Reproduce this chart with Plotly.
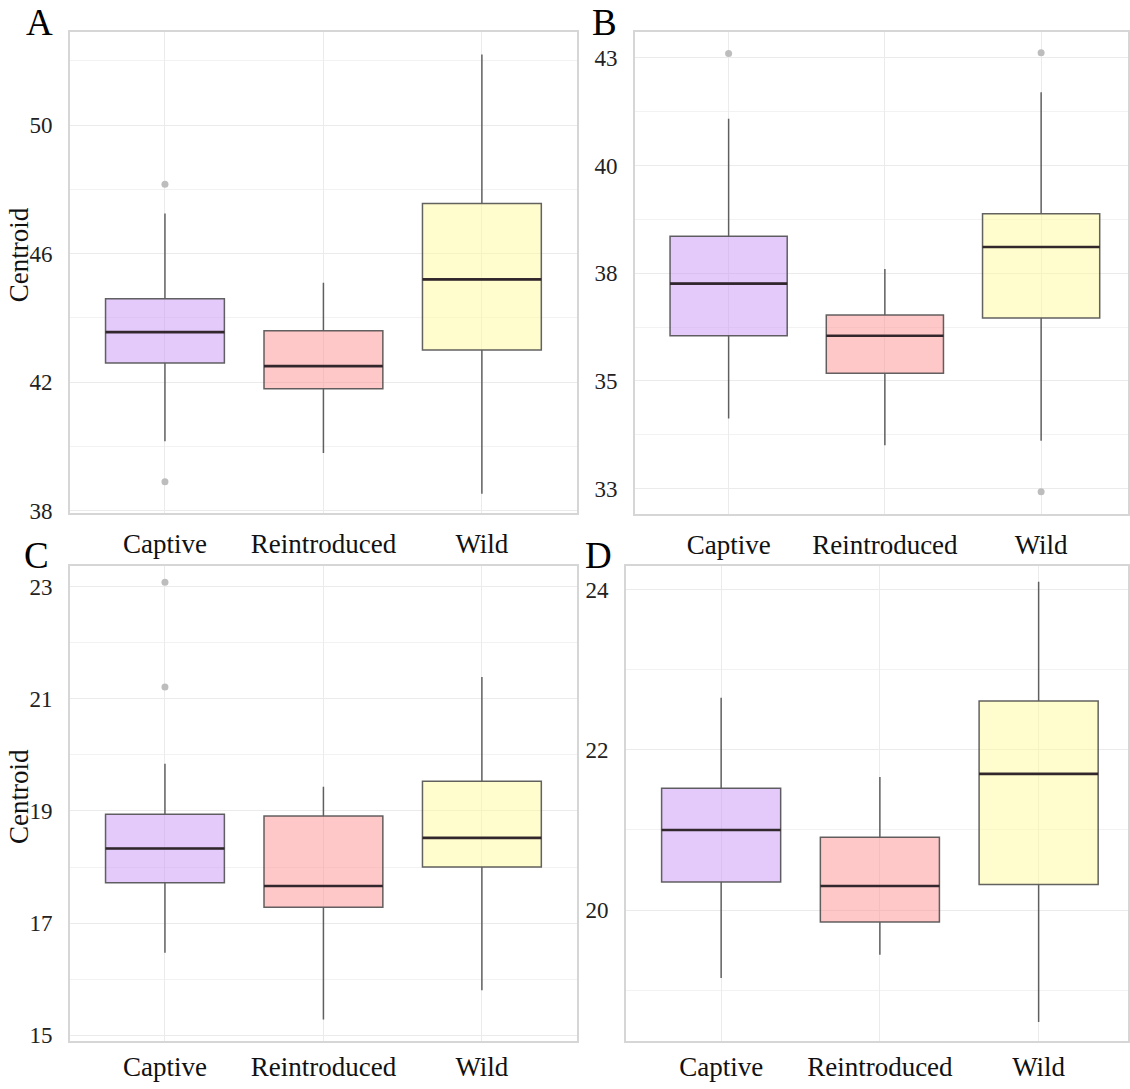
import plotly.graph_objects as go

W, H = 1130, 1089
KY = 1.0115  # vertical correction so rendered positions match the reference

categories = ["Captive", "Reintroduced", "Wild"]

# Panel A
A_lower = [40.16, 39.8, 38.53]
A_q1 = [42.6, 41.8, 43.0]
A_median = [43.56, 42.5, 45.2]
A_q3 = [44.6, 43.6, 47.56]
A_upper = [47.25, 45.1, 52.2]
A_out_x = ["Captive", "Captive"]
A_out_y = [48.16, 38.9]
A_tickvals = [38, 42, 46, 50]
A_ticktext = ["38", "42", "46", "50"]

# Panel B
B_lower = [34.13, 33.51, 33.61]
B_q1 = [36.05, 35.18, 36.46]
B_median = [37.26, 36.05, 38.11]
B_q3 = [38.36, 36.53, 38.88]
B_upper = [41.09, 37.6, 41.7]
B_out_x = ["Captive", "Wild", "Wild"]
B_out_y = [42.6, 42.62, 32.43]
B_tickvals = [32.5, 35, 37.5, 40, 42.5]
B_ticktext = ["33", "35", "38", "40", "43"]

# Panel C
C_lower = [16.47, 15.28, 15.80]
C_q1 = [17.72, 17.28, 18.0]
C_median = [18.33, 17.66, 18.52]
C_q3 = [18.94, 18.91, 19.53]
C_upper = [19.84, 19.43, 21.39]
C_out_x = ["Captive", "Captive"]
C_out_y = [23.08, 21.21]
C_tickvals = [15, 17, 19, 21, 23]
C_ticktext = ["15", "17", "19", "21", "23"]

# Panel D
D_lower = [19.15, 19.44, 18.6]
D_q1 = [20.35, 19.85, 20.32]
D_median = [21.0, 20.30, 21.70]
D_q3 = [21.52, 20.91, 22.61]
D_upper = [22.65, 21.66, 24.1]
D_out_x = []
D_out_y = []
D_tickvals = [20, 22, 24]
D_ticktext = ["20", "22", "24"]

fills = ["rgba(200,150,245,0.5)", "rgba(255,145,145,0.5)", "rgba(255,250,155,0.5)"]

panels = [
    dict(lo=A_lower, q1=A_q1, me=A_median, q3=A_q3, up=A_upper, ox=A_out_x, oy=A_out_y,
         tv=A_tickvals, tt=A_ticktext, minor=dict(tick0=38, dtick=2),
         xd=[70, 578], yd=[32, 512], yr=[37.94, 52.9], xr=[-0.6, 2.6],
         letter="A", lx=40, ly=0, title=254, so=6),
    dict(lo=B_lower, q1=B_q1, me=B_median, q3=B_q3, up=B_upper, ox=B_out_x, oy=B_out_y,
         tv=B_tickvals, tt=B_ticktext, minor=dict(tick0=32.5, dtick=1.25),
         xd=[636, 1130], yd=[32, 513], yr=[31.92, 43.1], xr=[-0.6, 2.556],
         letter="B", lx=606, ly=0, title=None, so=6),
    dict(lo=C_lower, q1=C_q1, me=C_median, q3=C_q3, up=C_upper, ox=C_out_x, oy=C_out_y,
         tv=C_tickvals, tt=C_ticktext, minor=dict(tick0=15, dtick=1),
         xd=[70, 578], yd=[565, 1040], yr=[14.89, 23.375], xr=[-0.6, 2.6],
         letter="C", lx=37, ly=532, title=795, so=1),
    dict(lo=D_lower, q1=D_q1, me=D_median, q3=D_q3, up=D_upper, ox=D_out_x, oy=D_out_y,
         tv=D_tickvals, tt=D_ticktext, minor=dict(tick0=18, dtick=1),
         xd=[627, 1130], yd=[565, 1040], yr=[18.36, 24.3], xr=[-0.6, 2.563],
         letter="D", lx=600, ly=532, title=None, so=1),
]

fig = go.Figure()
layout = dict(width=W, height=H, margin=dict(l=0, r=0, t=0, b=0),
              paper_bgcolor="white", plot_bgcolor="white", showlegend=False,
              font=dict(family="Liberation Serif", color="#1a1a1a"), annotations=[])

grid_c = "#ebebeb"
border_c = "#d6d6d6"


def px(xv):
    return xv / W


def py(yv):
    return max(0.0, min(1.0, 1 - yv * KY / H))


for i, p in enumerate(panels):
    n = "" if i == 0 else str(i + 1)
    xa, ya = "x" + n, "y" + n
    for j, cat in enumerate(categories):
        fig.add_trace(go.Box(
            x=[cat], q1=[p["q1"][j]], median=[p["me"][j]], q3=[p["q3"][j]],
            lowerfence=[p["lo"][j]], upperfence=[p["up"][j]],
            fillcolor=fills[j], line=dict(color="rgba(70,70,70,0.85)", width=1.5),
            whiskerwidth=0, width=0.75, boxpoints=False, xaxis=xa, yaxis=ya, hoverinfo="skip"))
        # thicker median line
        fig.add_trace(go.Box(
            x=[cat], q1=[p["me"][j]], median=[p["me"][j]], q3=[p["me"][j]],
            lowerfence=[p["me"][j]], upperfence=[p["me"][j]],
            fillcolor="rgba(0,0,0,0)", line=dict(color="rgba(45,35,40,0.95)", width=2.6),
            whiskerwidth=0, width=0.75, boxpoints=False, xaxis=xa, yaxis=ya, hoverinfo="skip"))
    if p["ox"]:
        fig.add_trace(go.Scatter(x=p["ox"], y=p["oy"], mode="markers",
                                 marker=dict(color="#bdbdbd", size=7), xaxis=xa, yaxis=ya, hoverinfo="skip"))
    xd = [max(0, px(p["xd"][0])), min(1, px(p["xd"][1]))]
    yd = [py(p["yd"][1]), py(p["yd"][0])]
    layout["xaxis" + n] = dict(
        domain=xd, anchor=ya, type="category", categoryorder="array", categoryarray=categories,
        range=p["xr"], showgrid=True, gridcolor=grid_c, gridwidth=1,
        showline=True, linecolor=border_c, linewidth=1.5, mirror=True,
        ticks="", tickfont=dict(size=27, family="Liberation Serif", color="#111"),
        ticklabelstandoff=p["so"], zeroline=False)
    layout["yaxis" + n] = dict(
        domain=yd, anchor=xa, range=p["yr"], tickvals=p["tv"], ticktext=p["tt"],
        showgrid=True, gridcolor=grid_c, gridwidth=1.2,
        minor=dict(tick0=p["minor"]["tick0"], dtick=p["minor"]["dtick"], showgrid=True,
                   gridcolor="#f2f2f2", gridwidth=1),
        showline=True, linecolor=border_c, linewidth=1.5, mirror=True, zeroline=False,
        ticks="", tickfont=dict(size=23, family="Liberation Serif", color="#222"),
        ticklabelstandoff=11)
    layout["annotations"].append(dict(
        text=p["letter"], x=px(p["lx"]), y=py(p["ly"]), xref="paper", yref="paper",
        showarrow=False, xanchor="center", yanchor="top",
        font=dict(size=37, family="Liberation Serif", color="#000")))
    if p["title"] is not None:
        layout["annotations"].append(dict(
            text="Centroid", x=px(19), y=py(p["title"]), xref="paper", yref="paper", textangle=-90,
            showarrow=False, xanchor="center", yanchor="middle",
            font=dict(size=27, family="Liberation Serif", color="#111")))

fig.update_layout(**layout)
fig.write_html("out.html", config={"displayModeBar": False},
               post_script="document.body.style.margin='0px';document.body.style.overflow='hidden';")
